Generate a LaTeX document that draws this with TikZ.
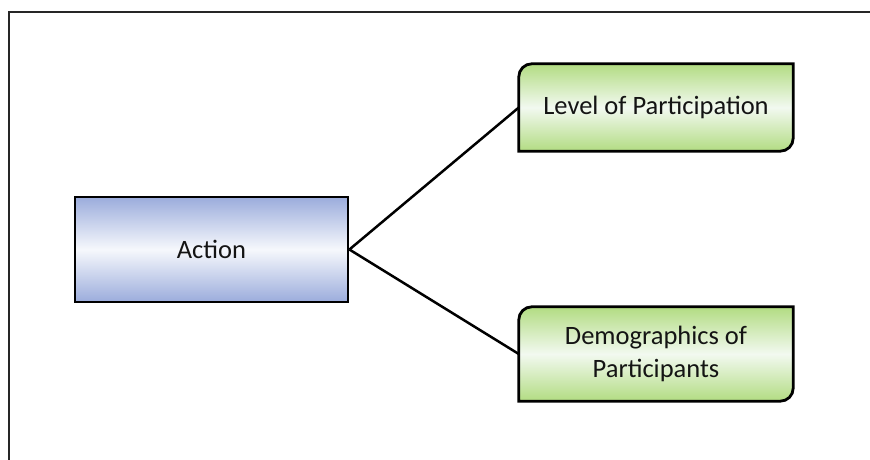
\documentclass[tikz,border=0pt]{standalone}
\usepackage{fontspec}
\setmainfont{Carlito}
\usetikzlibrary{calc,backgrounds}
\definecolor{blueedge}{RGB}{155,172,220}
\definecolor{bluemid}{RGB}{246,248,252}
\definecolor{greenedge}{RGB}{178,220,130}
\definecolor{greenmid}{RGB}{242,249,240}
\tikzset{
  box/.style={inner sep=0pt, align=center, font=\fontsize{26.5}{32.5}\selectfont, text=black!92},
  bluebox/.style={box, draw=black, line width=2.8pt, top color=blueedge, bottom color=blueedge, middle color=bluemid},
  leafbox/.style={box},
  leafshape/.style={draw=black, line width=2.8pt, top color=greenedge, bottom color=greenedge, middle color=greenmid},
  link/.style={draw=black, line width=2.5pt},
  frame/.style={draw=black!85, line width=1.8pt}
}
\begin{document}
\begin{tikzpicture}[x=1pt, y=-1pt]
  \useasboundingbox (0,0) rectangle (870,459);
  % outer frame
  \draw[frame] (9,470) -- (9,12) -- (880,12);

  % nodes
  \node[bluebox, minimum width=273pt, minimum height=105pt] (action) at (211.5,249.5) {Action};
  \node[leafbox, minimum width=274pt, minimum height=87pt] (level) at (656,107.5) {Level of Participation};
  \node[leafbox, minimum width=274pt, minimum height=94pt] (demo) at (656,354) {Demographics of\\Participants};

  % leaf boxes: rounded top-left and bottom-right corners (radius 13pt)
  \begin{pgfonlayer}{background}
    \foreach \n in {level,demo}{
      \path[leafshape] (\n.south west)
        -- ([yshift=-13pt]\n.north west)
        .. controls ([yshift=-5.8pt]\n.north west) and ([xshift=5.8pt]\n.north west)
        .. ([xshift=13pt]\n.north west)
        -- (\n.north east)
        -- ([yshift=13pt]\n.south east)
        .. controls ([yshift=5.8pt]\n.south east) and ([xshift=-5.8pt]\n.south east)
        .. ([xshift=-13pt]\n.south east)
        -- cycle;
    }
  \end{pgfonlayer}

  % connectors
  \draw[link] (action.east) -- (level.west);
  \draw[link] (action.east) -- (demo.west);
\end{tikzpicture}
\end{document}
